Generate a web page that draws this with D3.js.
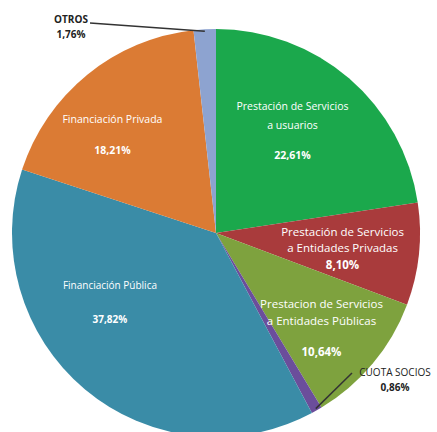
<!DOCTYPE html>
<html>
<head>
<meta charset="utf-8">
<script src="https://cdn.jsdelivr.net/npm/d3@7"></script>
<style>
  body { margin: 0; background: #fff; }
  text { font-family: "Open Sans", sans-serif; }
</style>
</head>
<body>
<div id="chart"></div>
<script>
// data, clockwise from 12 o'clock
const categories = [
    ["Prestación de Servicios", "a usuarios"],
    ["Prestación de Servicios", "a Entidades Privadas"],
    ["Prestacion de Servicios", "a Entidades Públicas"],
    ["CUOTA SOCIOS"],
    ["Financiación Pública"],
    ["Financiación Privada"],
    ["OTROS"]
];
const values = [22.61, 8.10, 10.64, 0.86, 37.82, 18.21, 1.76];
const valueLabels = ["22,61%", "8,10%", "10,64%", "0,86%", "37,82%", "18,21%", "1,76%"];
const colors = ["#1ba84c", "#a93b3c", "#7ea23e", "#6b4e9b", "#3a8ca7", "#db7b34", "#8da3d0"];

const W = 437, H = 432;
const cx = 216, cy = 233, R = 204;

const svg = d3.select("#chart").append("svg")
    .attr("width", W)
    .attr("height", H);

const g = svg.append("g").attr("transform", `translate(${cx},${cy})`);

const pie = d3.pie().sort(null).value(d => d);
const arcs = pie(values);
const arc = d3.arc().innerRadius(0).outerRadius(R);

g.selectAll("path.slice")
    .data(arcs)
    .join("path")
    .attr("class", "slice")
    .attr("d", arc)
    .attr("fill", (d, i) => colors[i]);

// inside labels: polar position (deg from top, fraction of radius) and line offsets
const inside = [
    { i: 0, ang: 36.5, f: 0.63, dys: [-23, -4], pdy: 26, size: 10.5 },
    { i: 1, ang: 97, f: 0.625, dys: [-16, 0], pdy: 17, size: 11.5 },
    { i: 2, ang: 130.5, f: 0.68, dys: [-18, -1], pdy: 30, size: 11.5 },
    { i: 4, ang: 237, f: 0.62, dys: [-16], pdy: 18, size: 10 },
    { i: 5, ang: 313.5, f: 0.70, dys: [-15], pdy: 16, size: 10.5 }
];

inside.forEach(l => {
    const a = l.ang * Math.PI / 180;
    const x = Math.sin(a) * R * l.f;
    const y = -Math.cos(a) * R * l.f;
    const t = g.append("g").attr("transform", `translate(${x},${y})`);
    categories[l.i].forEach((line, k) => {
        t.append("text")
            .attr("y", l.dys[k])
            .attr("text-anchor", "middle")
            .attr("dominant-baseline", "middle")
            .attr("fill", "#fff")
            .attr("font-size", l.size)
            .text(line);
    });
    t.append("text")
        .attr("y", l.pdy)
        .attr("text-anchor", "middle")
        .attr("dominant-baseline", "middle")
        .attr("fill", "#fff")
        .attr("font-size", l.size)
        .attr("font-weight", "bold")
        .text(valueLabels[l.i]);
});

// outside labels with leader lines
const outside = [
    { i: 6, tx: -145, ty: -213, lx: -126, ly: -210, bold: true },
    { i: 3, tx: 179, ty: 140, lx: 136, ly: 140, bold: false }
];

outside.forEach(l => {
    const end = arcs[l.i];
    const mid = (end.startAngle + end.endAngle) / 2;
    const ex = Math.sin(mid) * (R - 2), ey = -Math.cos(mid) * (R - 2);
    g.append("polyline")
        .attr("points", `${ex},${ey} ${l.lx},${l.ly}`)
        .attr("fill", "none")
        .attr("stroke", "#333")
        .attr("stroke-width", 1.5);
    g.append("text")
        .attr("x", l.tx)
        .attr("y", l.ty)
        .attr("text-anchor", "middle")
        .attr("dominant-baseline", "middle")
        .attr("fill", "#222")
        .attr("font-size", 10)
        .attr("font-weight", l.bold ? "bold" : "normal")
        .text(categories[l.i][0]);
    g.append("text")
        .attr("x", l.tx)
        .attr("y", l.ty + 15)
        .attr("text-anchor", "middle")
        .attr("dominant-baseline", "middle")
        .attr("fill", "#222")
        .attr("font-size", 10)
        .attr("font-weight", "bold")
        .text(valueLabels[l.i]);
});
</script>
</body>
</html>
